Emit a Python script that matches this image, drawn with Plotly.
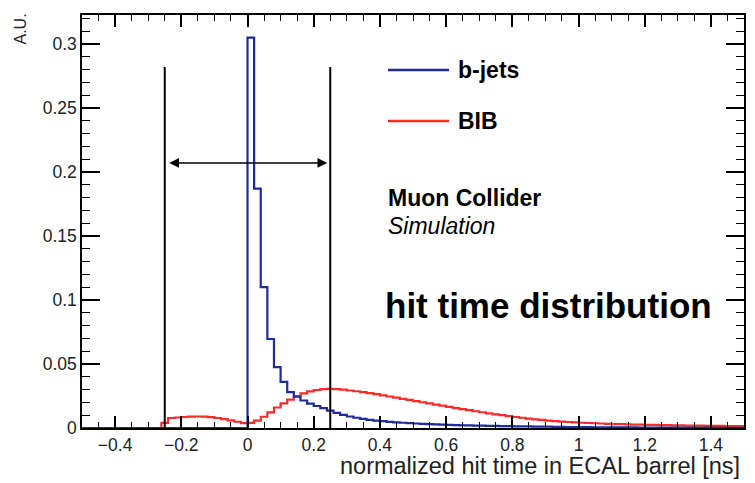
import numpy as np
import plotly.graph_objects as go

# ---- data (bin width 0.02 ns, from -0.5 to 1.5) ----
bin_edges = np.round(np.linspace(-0.5, 1.5, 101), 2)

bjets = [0.0] * 25 + [
    0.305, 0.187, 0.110, 0.0695, 0.0476, 0.036, 0.028, 0.0245, 0.0215, 0.019,
    0.0172, 0.0155, 0.0136, 0.0118, 0.0103, 0.0090, 0.0080, 0.0071, 0.0064, 0.0058,
    0.0053, 0.0048, 0.0044, 0.0041, 0.0038, 0.0035, 0.0032, 0.0030, 0.0028, 0.0026,
    0.0024, 0.0023, 0.0021, 0.0020, 0.0019, 0.0018, 0.0017, 0.0016, 0.0015, 0.0014,
    0.0013, 0.0012, 0.0012, 0.0011, 0.0010, 0.0010, 0.0009, 0.0009, 0.0008, 0.0008,
    0.0007, 0.0007, 0.0006, 0.0006, 0.0006, 0.0005, 0.0005, 0.0005, 0.0005, 0.0004,
    0.0004, 0.0004, 0.0004, 0.0004, 0.0003, 0.0003, 0.0003, 0.0003, 0.0003, 0.0003,
    0.0002, 0.0002, 0.0002, 0.0002, 0.0002,
]

bib = [0.0] * 12 + [
    0.0040, 0.0078, 0.0082, 0.0086, 0.0089, 0.0090, 0.0089, 0.0085, 0.0078, 0.0069,
    0.0059, 0.0049, 0.0038,
] + [
    0.0040, 0.0058, 0.0088, 0.0122, 0.0160, 0.0193, 0.0222, 0.0248, 0.0270, 0.0286,
    0.0297, 0.0304, 0.0306, 0.0304, 0.0299, 0.0293, 0.0287, 0.0280, 0.0272, 0.0264,
    0.0255, 0.0246, 0.0237, 0.0228, 0.0219, 0.0210, 0.0201, 0.0192, 0.0183, 0.0174,
    0.0165, 0.0156, 0.0147, 0.0139, 0.0131, 0.0123, 0.0115, 0.0107, 0.0100, 0.0093,
    0.0086, 0.0080, 0.0074, 0.0068, 0.0063, 0.0058, 0.0054, 0.0050, 0.0047, 0.0044,
    0.0041, 0.0039, 0.0037, 0.0035, 0.0033, 0.0031, 0.0030, 0.0028, 0.0027, 0.0026,
    0.0025, 0.0024, 0.0023, 0.0022, 0.0021, 0.0020, 0.0019, 0.0018, 0.0018, 0.0017,
    0.0016, 0.0016, 0.0015, 0.0015, 0.0014,
]

window = [-0.25, 0.25]
window_top = 0.282
arrow_y = 0.207

series_names = ["b-jets", "BIB"]
x_ticks = [-0.4, -0.2, 0, 0.2, 0.4, 0.6, 0.8, 1, 1.2, 1.4]
x_tick_text = ["\u22120.4", "\u22120.2", "0", "0.2", "0.4", "0.6", "0.8", "1", "1.2", "1.4"]
y_ticks = [0, 0.05, 0.1, 0.15, 0.2, 0.25, 0.3]
y_tick_text = ["0", "0.05", "0.1", "0.15", "0.2", "0.25", "0.3"]

BLUE = "#1f2a9c"
RED = "#ff2a2a"
FONT = "Liberation Sans, Arial, Helvetica, sans-serif"

# page offset (browser body margin) compensation
OFF = 8
PL, PR, PT, PB = 82, 744, 15, 428  # plot area in page pixels

fig = go.Figure()

def step_xy(vals):
    xs = list(bin_edges)
    ys = list(vals) + [vals[-1]]
    return xs, ys

for name, vals, col in [("BIB", bib, RED), ("b-jets", bjets, BLUE)]:
    xs, ys = step_xy(vals)
    fig.add_trace(go.Scatter(x=xs, y=ys, mode="lines", name=name,
                             line=dict(color=col, width=2.2, shape="hv"),
                             showlegend=False))

# window lines
for xv in window:
    fig.add_shape(type="line", x0=xv, x1=xv, y0=0, y1=window_top, xref="x", yref="y",
                  line=dict(color="black", width=2))

# double arrow
fig.add_annotation(x=window[1], y=arrow_y, ax=window[0], ay=arrow_y,
                   xref="x", yref="y", axref="x", ayref="y", text="",
                   showarrow=True, arrowhead=2, arrowside="end+start",
                   arrowsize=1.3, arrowwidth=1.5, arrowcolor="black",
                   standoff=3, startstandoff=3)

def px_to_paper(xp, yp):
    return (xp - PL) / (PR - PL), 1 - (yp - PT) / (PB - PT)

# legend (custom)
leg = [("b-jets", BLUE, 70), ("BIB", RED, 121)]
for name, col, ypix in leg:
    xa, yp = px_to_paper(388, ypix)
    xb, _ = px_to_paper(449, ypix)
    xt, _ = px_to_paper(456, ypix)
    fig.add_shape(type="line", xref="paper", yref="paper",
                  x0=xa, x1=xb, y0=yp, y1=yp, line=dict(color=col, width=2.5))
    fig.add_annotation(xref="paper", yref="paper", x=xt, y=yp,
                       text="<b>%s</b>" % name, showarrow=False, xanchor="left",
                       yanchor="middle", font=dict(size=23, color="black", family=FONT))

x0, y0 = px_to_paper(386, 198)
fig.add_annotation(xref="paper", yref="paper", x=x0, y=y0, text="<b>Muon Collider</b>",
                   showarrow=False, xanchor="left", yanchor="middle",
                   font=dict(size=23, color="black", family=FONT))
x0, y0 = px_to_paper(386, 226)
fig.add_annotation(xref="paper", yref="paper", x=x0, y=y0, text="<i>Simulation</i>",
                   showarrow=False, xanchor="left", yanchor="middle",
                   font=dict(size=23, color="black", family=FONT))
x0, y0 = px_to_paper(383, 305)
fig.add_annotation(xref="paper", yref="paper", x=x0, y=y0, text="<b>hit time distribution</b>",
                   showarrow=False, xanchor="left", yanchor="middle",
                   font=dict(size=35, color="black", family=FONT))

# axis titles
x0, y0 = px_to_paper(742, 466)
fig.add_annotation(xref="paper", yref="paper", x=x0, y=y0,
                   text="normalized hit time in ECAL barrel [ns]", showarrow=False,
                   xanchor="right", yanchor="middle",
                   font=dict(size=23.5, color="#222", family=FONT))
x0, y0 = px_to_paper(20, 12)
fig.add_annotation(xref="paper", yref="paper", x=x0, y=y0, text="A.U.",
                   showarrow=False, textangle=-90, xanchor="center", yanchor="top",
                   font=dict(size=16, color="#222", family=FONT))

axis_common = dict(showgrid=False, zeroline=False, showline=True, linecolor="black",
                   linewidth=1.5, mirror="allticks", ticks="inside", tickcolor="black",
                   automargin=False,
                   tickfont=dict(size=17.5, color="#222", family=FONT))

fig.update_xaxes(range=[-0.5, 1.5], tickvals=x_ticks, ticktext=x_tick_text,
                 ticklen=12, tickwidth=1.5,
                 minor=dict(ticks="inside", dtick=0.05, tick0=0, ticklen=6,
                            tickcolor="black", tickwidth=1.2),
                 **axis_common)
fig.update_yaxes(range=[0, 0.3226], tickvals=y_ticks, ticktext=y_tick_text,
                 ticklen=18, tickwidth=1.5,
                 minor=dict(ticks="inside", dtick=0.01, tick0=0, ticklen=8,
                            tickcolor="black", tickwidth=1.2),
                 **axis_common)

W, H = 755 - OFF, 483 - OFF
fig.update_layout(width=W, height=H,
                  margin=dict(l=PL - OFF, r=755 - PR, t=PT - OFF, b=483 - PB),
                  plot_bgcolor="white", paper_bgcolor="white",
                  font=dict(family=FONT, color="black"), showlegend=False)

fig.write_html("out.html")
